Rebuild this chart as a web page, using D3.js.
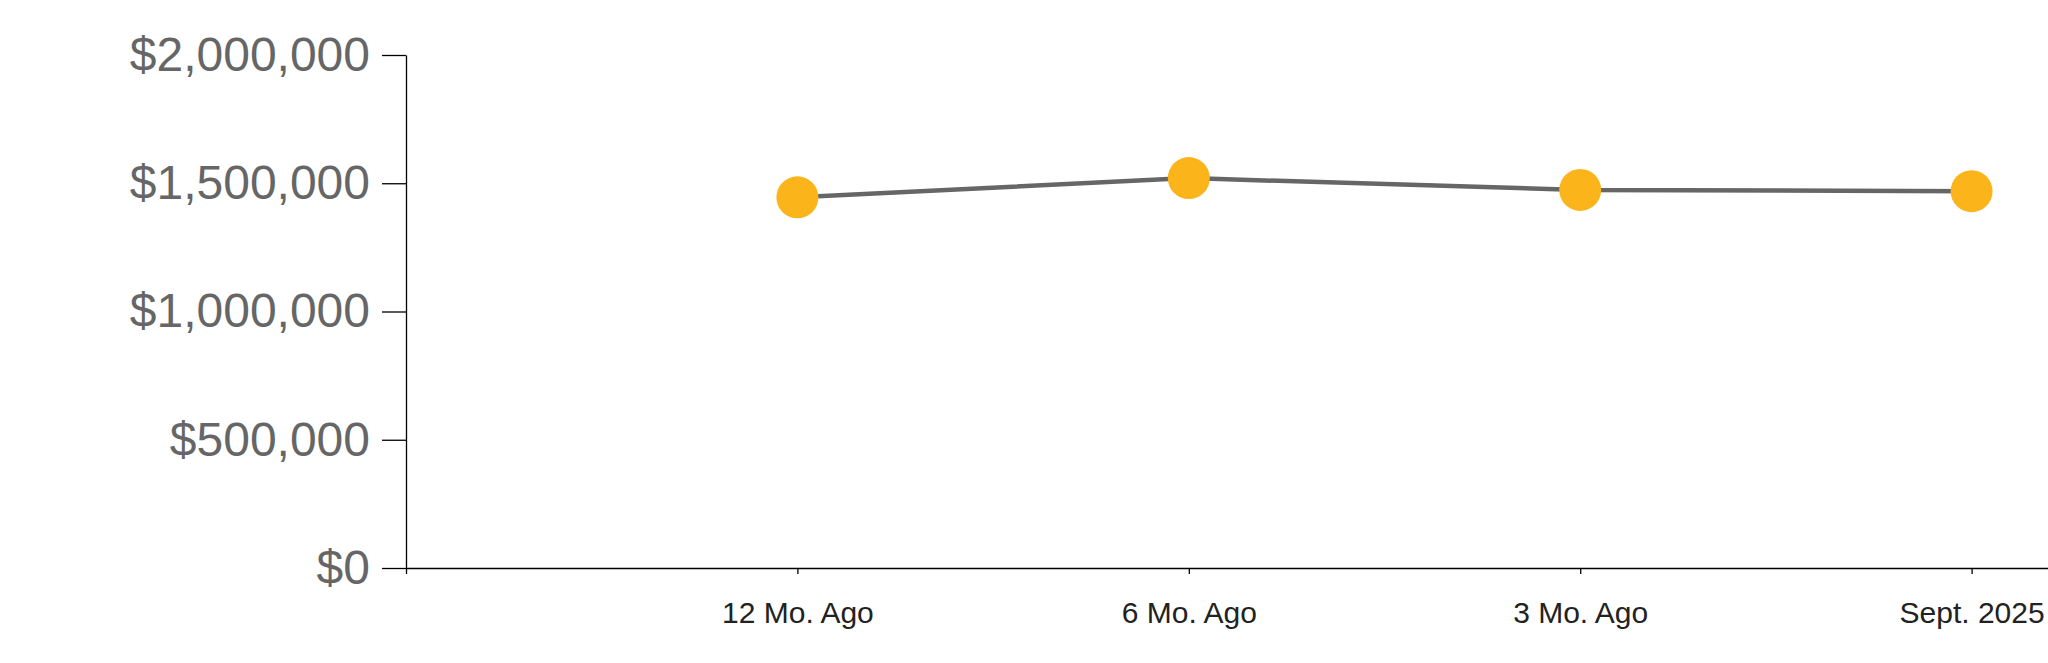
<!DOCTYPE html>
<meta charset="utf-8">
<style>
body { margin: 0; background: #fff; overflow: hidden; }
.line { fill: none; stroke: #666; stroke-width: 4.5px; }
.y-axis text { fill: #666; font-size: 48px; font-family: "Liberation Sans", Arial, sans-serif; }
.x-axis text { fill: #222; font-size: 30px; font-family: "Liberation Sans", Arial, sans-serif; }
.domain, .tick line { stroke: #000; stroke-width: 1.3px; }
</style>
<body>
<script src="https://d3js.org/d3.v7.min.js"></script>
<script>

// data
var periods = ["12 Mo. Ago", "6 Mo. Ago", "3 Mo. Ago", "Sept. 2025"];
var prices = [1445000, 1520000, 1474000, 1469000];
var yTicks = [0, 500000, 1000000, 1500000, 2000000];

var data = periods.map(function(p, i) { return {period: p, price: prices[i]}; });

// the plot runs past the right edge of the window
var margin = {top: 55, left: 406},
    width = 1957,
    height = 513;

var svg = d3.select("body").append("svg")
    .attr("width", 2048)
    .attr("height", 663)
  .append("g")
    .attr("transform", "translate(" + margin.left + "," + margin.top + ")");

var x = d3.scalePoint().domain(periods).range([0, width]).padding(1);
var y = d3.scaleLinear().domain([0, 2000000]).range([height, 0]);

// y axis
svg.append("g")
    .attr("class", "y-axis")
    .call(d3.axisLeft(y).tickValues(yTicks).tickSize(24).tickSizeOuter(0).tickPadding(12)
        .tickFormat(function(d) { return "$" + d3.format(",")(d); }));

// x axis
svg.append("g")
    .attr("class", "x-axis")
    .attr("transform", "translate(0," + height + ")")
    .call(d3.axisBottom(x).tickSize(6).tickPadding(28));

// line
var valueline = d3.line()
    .x(function(d) { return x(d.period); })
    .y(function(d) { return y(d.price); });

svg.append("path")
    .datum(data)
    .attr("class", "line")
    .attr("d", valueline);

// dots
svg.selectAll(".dot")
    .data(data)
  .enter().append("circle")
    .attr("class", "dot")
    .attr("r", 21)
    .attr("cx", function(d) { return x(d.period); })
    .attr("cy", function(d) { return y(d.price); })
    .attr("fill", "#fbb41a");

</script>
</body>
